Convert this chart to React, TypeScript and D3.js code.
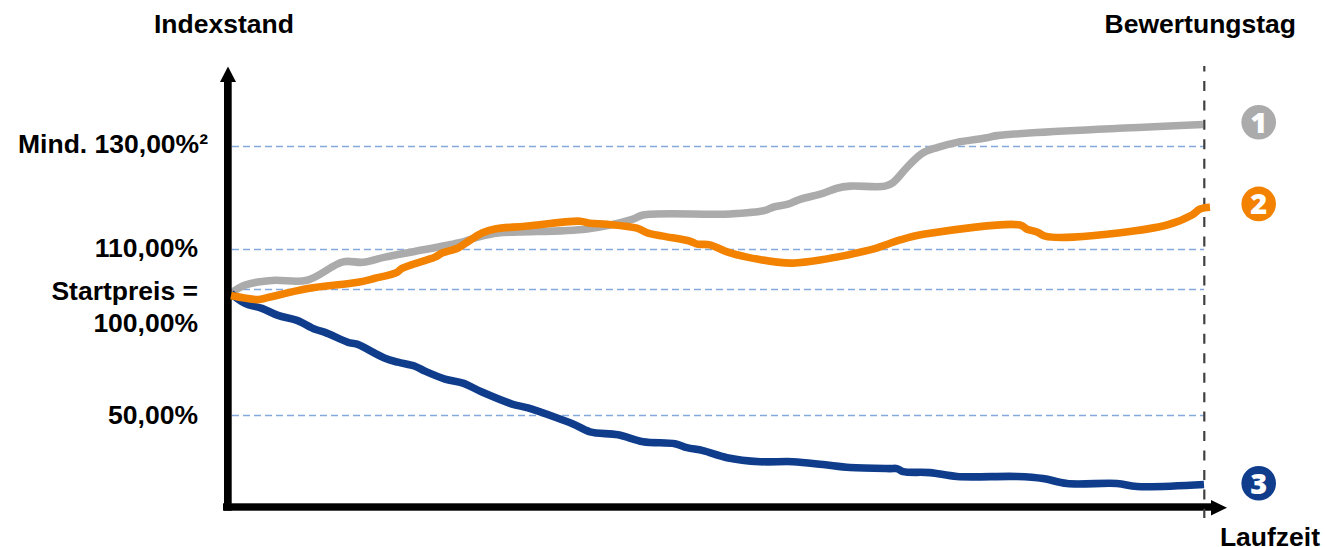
import React from "react";
import * as d3 from "d3";

// Laufzeit (offset along the time axis) and Indexstand (%) for each scenario
const grayT = [0, 3, 7, 14, 27, 44, 76, 112, 132, 154, 181, 227, 247, 267, 287, 356, 402, 412, 499, 534, 542, 557, 569, 592, 606, 619, 654, 662, 676, 691, 706, 726, 756, 766, 972];
const grayV = [98.4, 99.3, 100.25, 101.1, 101.85, 102.3, 102.3, 106.9, 106.8, 108.1, 109.4, 111.25, 112.4, 113.2, 113.4, 114.0, 115.9, 116.7, 116.9, 117.6, 118.2, 118.8, 119.75, 120.9, 121.9, 122.3, 122.3, 123.0, 125.95, 128.65, 129.8, 130.8, 131.7, 132.1, 134.25];
const orangeT = [0, 12, 27, 37, 77, 127, 144, 166, 171, 204, 211, 227, 239, 251, 264, 294, 349, 359, 376, 406, 417, 432, 459, 466, 479, 496, 516, 546, 562, 589, 639, 649, 669, 694, 789, 796, 806, 814, 842, 936, 961, 969, 979];
const orangeV = [97.6, 96.7, 96.0, 96.8, 100.25, 101.8, 102.8, 104.3, 105.3, 108.1, 109.1, 110.3, 111.8, 113.2, 114.0, 114.5, 115.5, 115.1, 114.9, 114.15, 113.2, 112.6, 111.6, 111.05, 110.9, 109.4, 108.1, 106.85, 106.6, 107.35, 109.9, 110.5, 111.85, 113.0, 114.75, 113.95, 113.4, 112.6, 112.4, 114.75, 116.7, 117.85, 118.2];
const blueT = [0, 14, 31, 47, 66, 84, 94, 117, 126, 154, 167, 184, 194, 214, 232, 251, 281, 297, 329, 342, 359, 387, 412, 444, 456, 472, 496, 529, 562, 592, 619, 659, 666, 672, 699, 726, 786, 812, 836, 886, 906, 973];
const blueV = [98.4, 94.5, 92.5, 89.7, 87.75, 84.2, 83.0, 79.05, 78.3, 72.7, 71.15, 69.55, 67.6, 64.45, 62.85, 59.3, 54.55, 53.0, 48.6, 46.65, 43.5, 42.3, 39.55, 38.75, 37.2, 36.0, 33.2, 31.6, 31.6, 30.45, 29.25, 28.85, 28.85, 27.65, 27.25, 25.7, 25.7, 24.9, 22.9, 22.9, 21.7, 22.5];

// Reference levels of the schematic (non-linear) index axis
const levels = [130, 110, 100, 50];
const levelLabels = ["Mind. 130,00%²", "110,00%", "Startpreis =", "50,00%"];
const scenarioLabels = ["1", "2", "3"];
const scenarioIndex = [134.7, 118.85, 23];

const GRAY = "#ababab";
const ORANGE = "#f28200";
const BLUE = "#0f3d8c";
const FONT = "'Liberation Sans', Arial, sans-serif";
const FS = 26.5;

const x = d3.scaleLinear().domain([0, 973]).range([231, 1204]);
const y = d3.scaleLinear().domain([0, 50, 100, 110, 130, 150]).range([541, 415.5, 289.5, 249.5, 146.5, 43]);

const pts = (t: number[], v: number[]) => t.map((d, i) => [d, v[i]] as [number, number]);
const line = d3
  .line<[number, number]>()
  .x((d) => x(d[0]))
  .y((d) => y(d[1]))
  .curve(d3.curveCatmullRom.alpha(0.5));

const txt = (s: string, px: number, py: number, anchor: "start" | "end") => (
  <text key={s} x={px} y={py} textAnchor={anchor} fontFamily={FONT} fontWeight={700} fontSize={FS} fill="#000">
    {s}
  </text>
);

export default function App() {
  const labelY = [153, 257, 300, 424];
  const labelX = [208, 198, 198, 198];
  const colors = [GRAY, ORANGE, BLUE];
  return (
    <svg width={1325} height={547} style={{ position: "absolute", left: 0, top: 0, display: "block" }}>
      <rect width={1325} height={547} fill="#fff" />
      {levels.map((l) => (
        <line key={l} x1={232} x2={1204} y1={y(l)} y2={y(l)} stroke="#85a9dc" strokeWidth={1.4} strokeDasharray="7 4" />
      ))}
      <path d={line(pts(grayT, grayV)) ?? ""} fill="none" stroke={GRAY} strokeWidth={7.6} strokeLinejoin="round" />
      <path d={line(pts(blueT, blueV)) ?? ""} fill="none" stroke={BLUE} strokeWidth={7.6} strokeLinejoin="round" />
      {/* axes */}
      <rect x={224} y={80} width={7.7} height={430.7} fill="#000" />
      <polygon points="228,66.5 236,82 220,82" fill="#000" />
      <rect x={223} y={503.3} width={990} height={7.4} fill="#000" />
      <polygon points="1227,507.7 1211,500 1211,515.5" fill="#000" />
      <line x1={1204.3} x2={1204.3} y1={66} y2={518} stroke="#404040" strokeWidth={2.2} strokeDasharray="10 9.45" strokeDashoffset={4.5} />
      <path d={line(pts(orangeT, orangeV)) ?? ""} fill="none" stroke={ORANGE} strokeWidth={7.6} strokeLinejoin="round" />
      {/* labels */}
      {txt("Indexstand", 154, 33, "start")}
      {txt("Bewertungstag", 1296, 33, "end")}
      {txt("Laufzeit", 1320, 546, "end")}
      {levelLabels.map((s, i) => txt(s, labelX[i], labelY[i], "end"))}
      {txt("100,00%", 198, 332, "end")}
      {/* scenario badges */}
      {scenarioLabels.map((s, i) => (
        <g key={s}>
          <circle cx={1258.7} cy={y(scenarioIndex[i])} r={17.3} fill={colors[i]} />
          <text x={1258.7} y={y(scenarioIndex[i]) + 10.4} textAnchor="middle" fontFamily="'Open Sans', sans-serif" fontWeight={800} fontSize={29} fill="#fff">
            {s}
          </text>
        </g>
      ))}
    </svg>
  );
}
